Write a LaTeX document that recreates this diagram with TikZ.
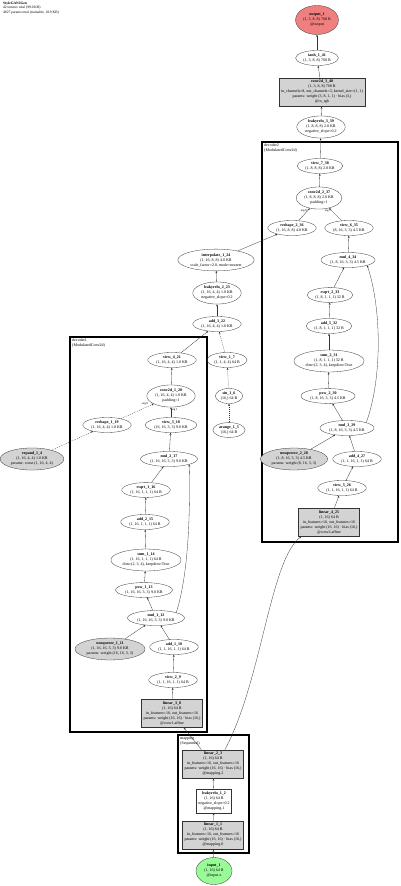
\documentclass[tikz,border=0pt]{standalone}
\usepackage{fontspec}
\setmainfont{Liberation Serif}
\usetikzlibrary{shapes.geometric,arrows.meta}
\definecolor{paramgray}{HTML}{D3D3D3}
\definecolor{outred}{HTML}{F08080}
\definecolor{ingreen}{HTML}{98FB98}

\begin{document}
\begin{tikzpicture}[
    x=1pt, y=-1pt,
    every node/.style={font=\fontsize{4}{5}\selectfont,align=center},
    tensor/.style={ellipse,draw=black!80,line width=0.3pt,inner xsep=1.5pt,inner ysep=1pt},
    param/.style={tensor,fill=paramgray},
    layer/.style={rectangle,draw=black!80,line width=0.3pt,inner xsep=2pt,inner ysep=2.5pt},
    module/.style={layer,fill=paramgray},
    cluster/.style={draw,line width=1.2pt},
    flow/.style={->,draw=black!80,line width=0.3pt},
    buffer/.style={flow,dash pattern=on 1pt off 1pt},
    elabel/.style={font=\fontsize{3}{3.5}\selectfont,inner sep=0.5pt},
    >={Stealth[length=2.2pt,width=1.8pt]}
]
\useasboundingbox (0,0) rectangle (400,886);

\node (title) [anchor=north west,align=left,inner sep=0pt,font=\fontsize{3.6}{4.3}\selectfont] at (3,2)
    {\textbf{StyleGAN2Gen}\\42 tensors total (99.0 KB)\\4827 params total (trainable, 18.9 KB)};

\draw[cluster] (262,142) rectangle (398,542);
\node (dec2) [anchor=north west,align=left,inner sep=1pt] at (263,143) {decoder2\\(ModulatedConv2d)};
\draw[cluster] (70,337) rectangle (207,732);
\node (dec1) [anchor=north west,align=left,inner sep=1pt] at (71,338) {decoder1\\(ModulatedConv2d)};
\draw[cluster] (178,735) rectangle (249,853);
\node (mapping) [anchor=north west,align=left,inner sep=1pt] at (179,736) {mapping\\(Sequential)};

\node (outp) [tensor,fill=outred,minimum width=38pt,minimum height=29pt] at (317,20) {\textbf{output\_1}\\(1, 3, 8, 8) 768 B\\@output};
\node (tanh) [tensor] at (317,58) {\textbf{tanh\_1\_41}\\(1, 3, 8, 8) 768 B};
\node (conv3) [module] at (322,92) {\textbf{conv2d\_3\_40}\\(1, 3, 8, 8) 768 B\\in\_channels=8, out\_channels=3, kernel\_size=(1, 1)\\params: weight (3, 8, 1, 1) · bias (3,)\\@to\_rgb};
\node (lrelu3) [tensor] at (321,127) {\textbf{leakyrelu\_3\_39}\\(1, 8, 8, 8) 2.0 KB\\negative\_slope=0.2};

\node (view7) [tensor] at (320,166) {\textbf{view\_7\_38}\\(1, 8, 8, 8) 2.0 KB};
\node (conv2) [tensor] at (319,198) {\textbf{conv2d\_2\_37}\\(1, 8, 8, 8) 2.0 KB\\padding=1};
\node (resh2) [tensor] at (292,228) {\textbf{reshape\_2\_36}\\(1, 16, 8, 8) 4.0 KB};
\node (view6) [tensor] at (349,228) {\textbf{view\_6\_35}\\(8, 16, 3, 3) 4.5 KB};
\node (mul4) [tensor] at (348,260) {\textbf{mul\_4\_34}\\(1, 8, 16, 3, 3) 4.5 KB};
\node (rsqrt2) [tensor] at (330,295) {\textbf{rsqrt\_2\_33}\\(1, 8, 1, 1, 1) 32 B};
\node (add5) [tensor] at (329,326) {\textbf{add\_5\_32}\\(1, 8, 1, 1, 1) 32 B};
\node (sum2) [tensor] at (329,361) {\textbf{sum\_2\_31}\\(1, 8, 1, 1, 1) 32 B\\dim=(2, 3, 4), keepdim=True};
\node (pow2) [tensor] at (328,396) {\textbf{pow\_2\_30}\\(1, 8, 16, 3, 3) 4.5 KB};
\node (mul3) [tensor] at (347,428) {\textbf{mul\_3\_29}\\(1, 8, 16, 3, 3) 4.5 KB};
\node (unsq2) [param] at (294,459) {\textbf{unsqueeze\_2\_28}\\(1, 8, 16, 3, 3) 4.5 KB\\params: weight (8, 16, 3, 3)};
\node (add4) [tensor] at (357,459) {\textbf{add\_4\_27}\\(1, 1, 16, 1, 1) 64 B};
\node (view5) [tensor] at (342,488) {\textbf{view\_5\_26}\\(1, 1, 16, 1, 1) 64 B};
\node (lin4) [module] at (329,522) {\textbf{linear\_4\_25}\\(1, 16) 64 B\\in\_features=16, out\_features=16\\params: weight (16, 16) · bias (16,)\\@conv2.affine};

\node (interp) [tensor] at (216,260) {\textbf{interpolate\_1\_24}\\(1, 16, 8, 8) 4.0 KB\\scale\_factor=2.0, mode=nearest};
\node (lrelu2) [tensor] at (217,293) {\textbf{leakyrelu\_2\_23}\\(1, 16, 4, 4) 1.0 KB\\negative\_slope=0.2};
\node (add3) [tensor] at (217,324) {\textbf{add\_3\_22}\\(1, 16, 4, 4) 1.0 KB};
\node (view1) [tensor] at (227,360) {\textbf{view\_1\_7}\\(1, 1, 4, 4) 64 B};
\node (sin) [tensor] at (229,396) {\textbf{sin\_1\_6}\\(16,) 64 B};
\node (arange) [tensor] at (229,430) {\textbf{arange\_1\_5}\\(16,) 64 B};

\node (view4) [tensor] at (172,360) {\textbf{view\_4\_21}\\(1, 16, 4, 4) 1.0 KB};
\node (conv1) [tensor] at (171,396) {\textbf{conv2d\_1\_20}\\(1, 16, 4, 4) 1.0 KB\\padding=1};
\node (resh1) [tensor] at (107,425) {\textbf{reshape\_1\_19}\\(1, 16, 4, 4) 1.0 KB};
\node (view3) [tensor] at (171,425) {\textbf{view\_3\_18}\\(16, 16, 3, 3) 9.0 KB};
\node (expand) [param] at (32,459) {\textbf{expand\_1\_4}\\(1, 16, 4, 4) 1.0 KB\\params: const (1, 16, 4, 4)};
\node (mul2) [tensor] at (169,459) {\textbf{mul\_2\_17}\\(1, 16, 16, 3, 3) 9.0 KB};
\node (rsqrt1) [tensor] at (146,490) {\textbf{rsqrt\_1\_16}\\(1, 16, 1, 1, 1) 64 B};
\node (add2) [tensor] at (145,522) {\textbf{add\_2\_15}\\(1, 16, 1, 1, 1) 64 B};
\node (sum1) [tensor] at (146,560) {\textbf{sum\_1\_14}\\(1, 16, 1, 1, 1) 64 B\\dim=(2, 3, 4), keepdim=True};
\node (pow1) [tensor] at (144,590) {\textbf{pow\_1\_13}\\(1, 16, 16, 3, 3) 9.0 KB};
\node (mul1) [tensor] at (156,618) {\textbf{mul\_1\_12}\\(1, 16, 16, 3, 3) 9.0 KB};
\node (unsq1) [param] at (110,649) {\textbf{unsqueeze\_1\_11}\\(1, 16, 16, 3, 3) 9.0 KB\\params: weight (16, 16, 3, 3)};
\node (add1) [tensor] at (174,647) {\textbf{add\_1\_10}\\(1, 1, 16, 1, 1) 64 B};
\node (view2) [tensor] at (173,680) {\textbf{view\_2\_9}\\(1, 1, 16, 1, 1) 64 B};
\node (lin3) [module] at (172,713) {\textbf{linear\_3\_8}\\(1, 16) 64 B\\in\_features=16, out\_features=16\\params: weight (16, 16) · bias (16,)\\@conv1.affine};

\node (lin2) [module] at (213,764) {\textbf{linear\_2\_3}\\(1, 16) 64 B\\in\_features=16, out\_features=16\\params: weight (16, 16) · bias (16,)\\@mapping.2};
\node (lrelu1) [layer] at (214,801) {\textbf{leakyrelu\_1\_2}\\(1, 16) 64 B\\negative\_slope=0.2\\@mapping.1};
\node (lin1) [module] at (213,835) {\textbf{linear\_1\_1}\\(1, 16) 64 B\\in\_features=16, out\_features=16\\params: weight (16, 16) · bias (16,)\\@mapping.0};
\node (inp) [tensor,fill=ingreen,minimum width=36pt,minimum height=27pt] at (214,871) {\textbf{input\_1}\\(1, 16) 64 B\\@input.z};

\draw[flow] (inp) -- (lin1);
\draw[flow] (lin1) -- (lrelu1);
\draw[flow] (lrelu1) -- (lin2);
\draw[flow] (lin2) -- (lin3);
\draw[flow] ([xshift=12pt]lin2.north) .. controls (262,680) and (270,560) .. ([xshift=3pt]lin4.south west);

\draw[flow] (lin3) -- (view2);
\draw[flow] (view2) -- (add1);
\draw[flow] (add1) -- (mul1);
\draw[flow] (unsq1) -- (mul1);
\draw[flow] (mul1) -- (pow1);
\draw[flow] (pow1) -- (sum1);
\draw[flow] (sum1) -- (add2);
\draw[flow] (add2) -- (rsqrt1);
\draw[flow] (rsqrt1) -- (mul2);
\draw[flow] (mul1.north east) .. controls (190,570) and (190,500) .. (mul2.south east);
\draw[flow] (mul2) -- (view3);
\draw[flow] (view3) -- node[elabel,pos=0.75,right] {arg 1} (conv1);
\draw[buffer] (expand) -- (resh1);
\draw[buffer] (resh1) -- node[elabel,pos=0.85,above left] {arg 0} (conv1);
\draw[flow] (conv1) -- (view4);
\draw[flow] (view4) -- (add3);

\draw[buffer] (arange) -- (sin);
\draw[buffer] (sin) -- (view1);
\draw[buffer] (view1) -- (add3);
\draw[flow] (add3) -- (lrelu2);
\draw[flow] (lrelu2) -- (interp);
\draw[flow] (interp) -- (resh2);

\draw[flow] (lin4) -- (view5);
\draw[flow] (view5) -- (add4);
\draw[flow] (add4) -- (mul3);
\draw[flow] (unsq2) -- (mul3);
\draw[flow] (mul3) -- (pow2);
\draw[flow] (pow2) -- (sum2);
\draw[flow] (sum2) -- (add5);
\draw[flow] (add5) -- (rsqrt2);
\draw[flow] (rsqrt2) -- (mul4);
\draw[flow] (mul3.north east) .. controls (382,380) and (382,310) .. (mul4.south east);
\draw[flow] (mul4) -- (view6);
\draw[flow] (view6) -- node[elabel,pos=0.8,left] {arg 1} (conv2);
\draw[flow] (resh2) -- node[elabel,pos=0.8,left] {arg 0} (conv2);
\draw[flow] (conv2) -- (view7);
\draw[flow] (view7) -- (lrelu3);
\draw[flow] (lrelu3) -- (conv3);
\draw[flow] (conv3) -- (tanh);
\draw[flow] (tanh) -- (outp);

\end{tikzpicture}
\end{document}
